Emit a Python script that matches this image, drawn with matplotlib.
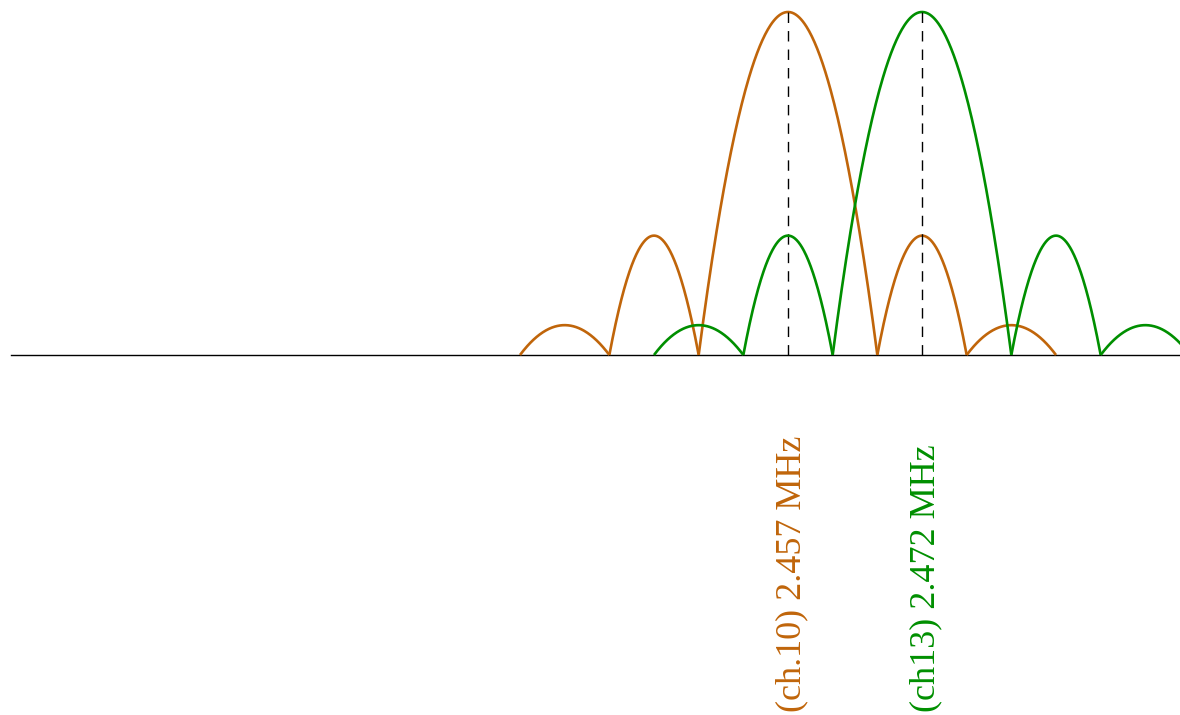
import matplotlib
matplotlib.use("Agg")
import matplotlib.pyplot as plt
import matplotlib.transforms as mtransforms
import numpy as np

# channel centres (MHz), labels and colours
centres = [2457, 2472]
labels = ["(ch.10) 2.457 MHz", "(ch13) 2.472 MHz"]
colors = ["#c0650a", "#008f00"]

# lobe edges relative to centre (MHz) and lobe heights (main lobe = 1)
lobe_edges = [-30, -20, -10, 10, 20, 30]
lobe_heights = [0.087, 0.348, 1.0, 0.348, 0.087]

baseline_start = 2370


def draw_lobes(ax, centre, color):
    for i in range(len(lobe_heights)):
        a = centre + lobe_edges[i]
        b = centre + lobe_edges[i + 1]
        x = np.linspace(a, b, 200)
        # parabolic arc between two zeros
        y = lobe_heights[i] * 4 * (x - a) * (b - x) / (b - a) ** 2
        ax.plot(x, y, color=color, lw=1.9, solid_capstyle='butt')


fig = plt.figure(figsize=(11.8, 7.15), dpi=100)
ax = fig.add_axes([0, 0, 1, 1])
ax.axis('off')

ax.plot([baseline_start, 2510], [0, 0], color='black', lw=1.0)

for c, col in zip(centres, colors):
    draw_lobes(ax, c, col)
    ax.plot([c, c], [0, 1], color='black', lw=1.0, dashes=(7.5, 5.8))

ax.set_xlim(2368.79, 2500.88)
ax.set_ylim(-1.0496, 1.035)

for c, lab, col in zip(centres, labels, colors):
    tr = mtransforms.blended_transform_factory(ax.transData, ax.transAxes)
    tr = tr + mtransforms.ScaledTranslation(4 / 100, 3 / 100, fig.dpi_scale_trans)
    ax.text(c, 0, lab, transform=tr, rotation=90, ha='center', va='bottom',
            color=col, fontsize=26, family='Liberation Serif')

fig.savefig("out.png", dpi=100)
